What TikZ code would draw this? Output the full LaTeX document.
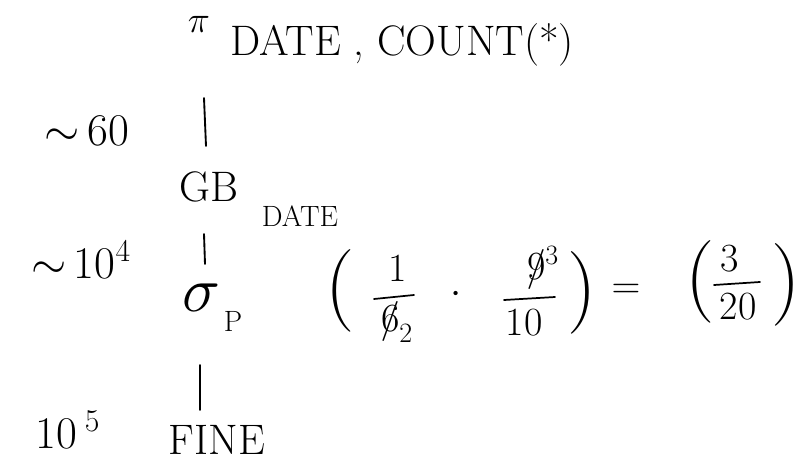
\RequirePackage{fix-cm}
\documentclass[tikz,border=0pt]{standalone}
\newcommand\strk[1]{\mbox{\ooalign{$#1$\cr\hidewidth$/$\hidewidth\cr}}}
\begin{document}
\begin{tikzpicture}[x=0.75pt,y=-0.75pt,
  lab/.style={inner sep=0pt,font=\fontsize{30}{34}\selectfont},
  num/.style={inner sep=0pt,font=\fontsize{34}{40}\selectfont},
  big/.style={inner sep=0pt,font=\fontsize{32}{36}\selectfont},
  small/.style={inner sep=0pt,font=\fontsize{22}{24}\selectfont},
  paren/.style={inner sep=0pt,font=\fontsize{62}{64}\selectfont},
  edge/.style={line width=1.4pt,line cap=round},
  bar/.style={line width=1.3pt,line cap=round}]
\useasboundingbox (0,0) rectangle (799,470);
% top: projection
\node[inner sep=0pt,font=\fontsize{28}{30}\selectfont] (pi) at (199,24) {$\pi$};
\node[big,anchor=west] (proj) at (230,45) {DATE , COUNT(*)};
% edge 1
\coordinate (e1a) at (204,98);
\coordinate (e1b) at (206,146);
\draw[edge] (e1a) -- (e1b);
\node[num] (c60) at (87,131) {$\sim$\,60};
% group by
\node[big] (gb) at (209,187) {GB};
\node[small] (gbsub) at (300,216) {DATE};
\node[num] (c104) at (81,260) {$\sim$\,10$^4$};
% edge 2
\coordinate (e2a) at (204,234);
\coordinate (e2b) at (205,264);
\draw[edge] (e2a) -- (e2b);
% selection
\node[inner sep=0pt,font=\fontsize{48}{50}\selectfont] (sig) at (201,298) {$\sigma$};
\node[small] (sigsub) at (233,321) {P};
% selectivity
\node[paren] (lp1) at (340,291) {(};
\node[lab] (n1) at (398,268) {1};
\coordinate (b1a) at (374,299);
\coordinate (b1b) at (414,295);
\draw[bar] (b1a) -- (b1b);
\node[lab] (d1) at (397,324) {$\strk{6}_2$};
\node[lab] (dot) at (456,295) {$\cdot$};
\node[lab] (n2) at (543,268) {$\strk{9}^3$};
\coordinate (b2a) at (504,300);
\coordinate (b2b) at (555,297);
\draw[bar] (b2a) -- (b2b);
\node[lab] (d2) at (524,323) {10};
\node[paren] (rp1) at (582,293) {)};
\node[lab] (eq) at (626,291) {$=$};
\node[paren] (lp2) at (700,282) {(};
\node[lab] (n3) at (730,259) {3};
\coordinate (b3a) at (714,285);
\coordinate (b3b) at (760,282);
\draw[bar] (b3a) -- (b3b);
\node[lab] (d3) at (738,307) {20};
\node[paren] (rp2) at (786,285) {)};
% edge 3
\coordinate (e3a) at (200,365);
\coordinate (e3b) at (200,410);
\draw[edge] (e3a) -- (e3b);
\node[num] (c105) at (68,430) {10\,$^5$};
\node[big] (fine) at (217,440) {FINE};
\end{tikzpicture}
\end{document}
